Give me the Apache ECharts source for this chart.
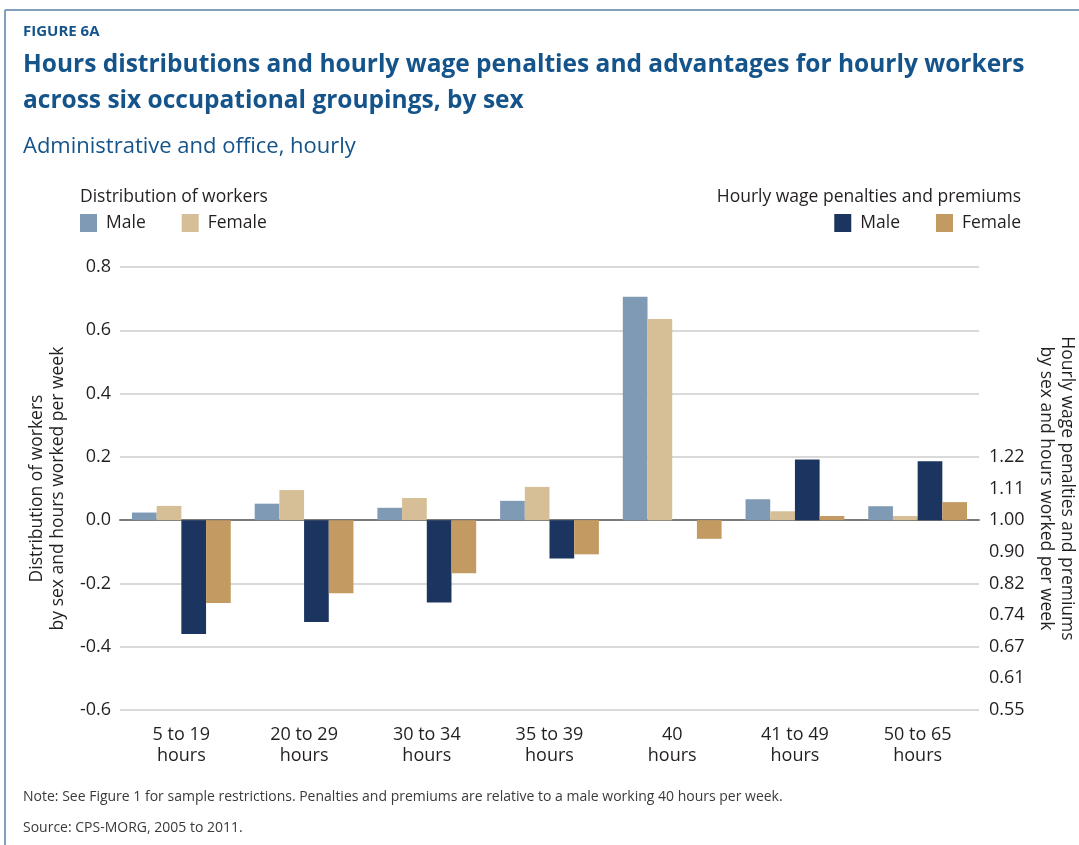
<!DOCTYPE html>
<html lang="en">
<head>
    <meta charset="UTF-8">
    <title>Figure 6A</title>
    <script src="https://cdn.jsdelivr.net/npm/echarts@6/dist/echarts.min.js"></script>
    <style>
        html, body { margin: 0; padding: 0; background: #fff; overflow: hidden; }
        #main { width: 1079px; height: 845px; }
    </style>
</head>
<body>
<div id="main"></div>
<script type="text/javascript">
    // categories (hours worked per week)
    var hours = ['5 to 19\nhours', '20 to 29\nhours', '30 to 34\nhours', '35 to 39\nhours', '40\nhours', '41 to 49\nhours', '50 to 65\nhours'];

    // distribution of workers (left axis)
    var maleDist   = [0.024, 0.052, 0.039, 0.061, 0.706, 0.066, 0.044];
    var femaleDist = [0.045, 0.095, 0.070, 0.105, 0.636, 0.028, 0.013];

    // wage penalties / premiums, log points relative to male at 40 hours
    var maleWage   = [-0.360, -0.322, -0.260, -0.121, 0, 0.192, 0.186];
    var femaleWage = [-0.262, -0.231, -0.168, -0.108, -0.059, 0.013, 0.057];

    // right axis tick labels, from -0.6 up to 0.2 in steps of 0.1
    var rightTicks = ['0.55', '0.61', '0.67', '0.74', '0.82', '0.90', '1.00', '1.11', '1.22'];

    var blue = '#14548a';
    var ink = '#231f20';
    var font = 'Open Sans';

    var chart = echarts.init(document.getElementById('main'));

    chart.setOption({
        animation: false,
        textStyle: { fontFamily: font },
        title: [
            { text: 'FIGURE 6A', left: 18, top: 19,
              textStyle: { color: blue, fontSize: 15, fontWeight: 'bold', fontFamily: font } },
            { text: 'Hours distributions and hourly wage penalties and advantages for hourly workers\nacross six occupational groupings, by sex',
              left: 18, top: 42,
              textStyle: { color: blue, fontSize: 24.5, fontWeight: 'bold', lineHeight: 36, fontFamily: font } },
            { text: 'Administrative and office, hourly', left: 18, top: 131,
              textStyle: { color: blue, fontSize: 22, fontWeight: 'normal', fontFamily: font } },
            { text: 'Distribution of workers', left: 75, top: 183,
              textStyle: { color: ink, fontSize: 17.5, fontWeight: 'normal', fontFamily: font } },
            { text: 'Hourly wage penalties and premiums', right: 53, top: 183,
              textStyle: { color: ink, fontSize: 17.5, fontWeight: 'normal', fontFamily: font } },
            { text: 'Note: See Figure 1 for sample restrictions. Penalties and premiums are relative to a male working 40 hours per week.',
              left: 18, top: 785,
              textStyle: { color: '#3a3a3a', fontSize: 14, fontWeight: 'normal', fontFamily: font } },
            { text: 'Source: CPS-MORG, 2005 to 2011.', left: 18, top: 816,
              textStyle: { color: '#3a3a3a', fontSize: 14, fontWeight: 'normal', fontFamily: font } }
        ],
        legend: [
            { data: ['Male (distribution)', 'Female (distribution)'], left: 75, top: 209,
              itemWidth: 17, itemHeight: 18, itemGap: 36, icon: 'rect',
              formatter: function (n) { return n.split(' ')[0]; },
              textStyle: { color: ink, fontSize: 17.5, padding: [0, 0, 0, 4] } },
            { data: ['Male (wage)', 'Female (wage)'], right: 53, top: 209,
              itemWidth: 17, itemHeight: 18, itemGap: 36, icon: 'rect',
              formatter: function (n) { return n.split(' ')[0]; },
              textStyle: { color: ink, fontSize: 17.5, padding: [0, 0, 0, 4] } }
        ],
        graphic: [
            { type: 'line', shape: { x1: 5, y1: 10, x2: 1079, y2: 10 },
              style: { stroke: '#7f9fbd', lineWidth: 2 } },
            { type: 'line', shape: { x1: 5, y1: 10, x2: 5, y2: 845 },
              style: { stroke: '#7f9fbd', lineWidth: 2 } }
        ],
        grid: { left: 120, right: 100, top: 267, bottom: 135, containLabel: false, outerBoundsMode: 'none' },
        xAxis: {
            type: 'category',
            data: hours,
            axisTick: { show: false },
            axisLine: { onZero: true, lineStyle: { color: '#7a7a7a', width: 2 } },
            axisLabel: { color: ink, fontSize: 18, lineHeight: 21, margin: 14 }
        },
        yAxis: [
            {
                type: 'value', min: -0.6, max: 0.8, interval: 0.2,
                name: 'Distribution of workers\nby sex and hours worked per week',
                nameLocation: 'middle', nameGap: 51, nameRotate: 90,
                nameTextStyle: { color: ink, fontSize: 17.5, lineHeight: 21 },
                axisLabel: { color: ink, fontSize: 18, margin: 9,
                    formatter: function (v) { return v.toFixed(1); } },
                axisLine: { show: false }, axisTick: { show: false },
                splitLine: { lineStyle: { color: '#d9d9d9', width: 2 } }
            },
            {
                type: 'value', min: -0.6, max: 0.8, interval: 0.1,
                name: 'Hourly wage penalties and premiums\nby sex and hours worked per week',
                nameLocation: 'middle', nameGap: 56, nameRotate: -90,
                nameTextStyle: { color: ink, fontSize: 17.5, lineHeight: 21 },
                axisLabel: { color: ink, fontSize: 18, margin: 10,
                    formatter: function (v) {
                        var i = Math.round((v + 0.6) / 0.1);
                        return i < rightTicks.length ? rightTicks[i] : '';
                    } },
                axisLine: { show: false }, axisTick: { show: false },
                splitLine: { show: false }
            }
        ],
        series: [
            { name: 'Male (distribution)', type: 'bar', data: maleDist,
              barGap: '0%', barCategoryGap: '19.5%', itemStyle: { color: '#7f9ab4' } },
            { name: 'Female (distribution)', type: 'bar', data: femaleDist,
              itemStyle: { color: '#d6bf96' } },
            { name: 'Male (wage)', type: 'bar', data: maleWage,
              itemStyle: { color: '#1c3560' } },
            { name: 'Female (wage)', type: 'bar', data: femaleWage,
              itemStyle: { color: '#c39a62' } }
        ]
    });
</script>
</body>
</html>
